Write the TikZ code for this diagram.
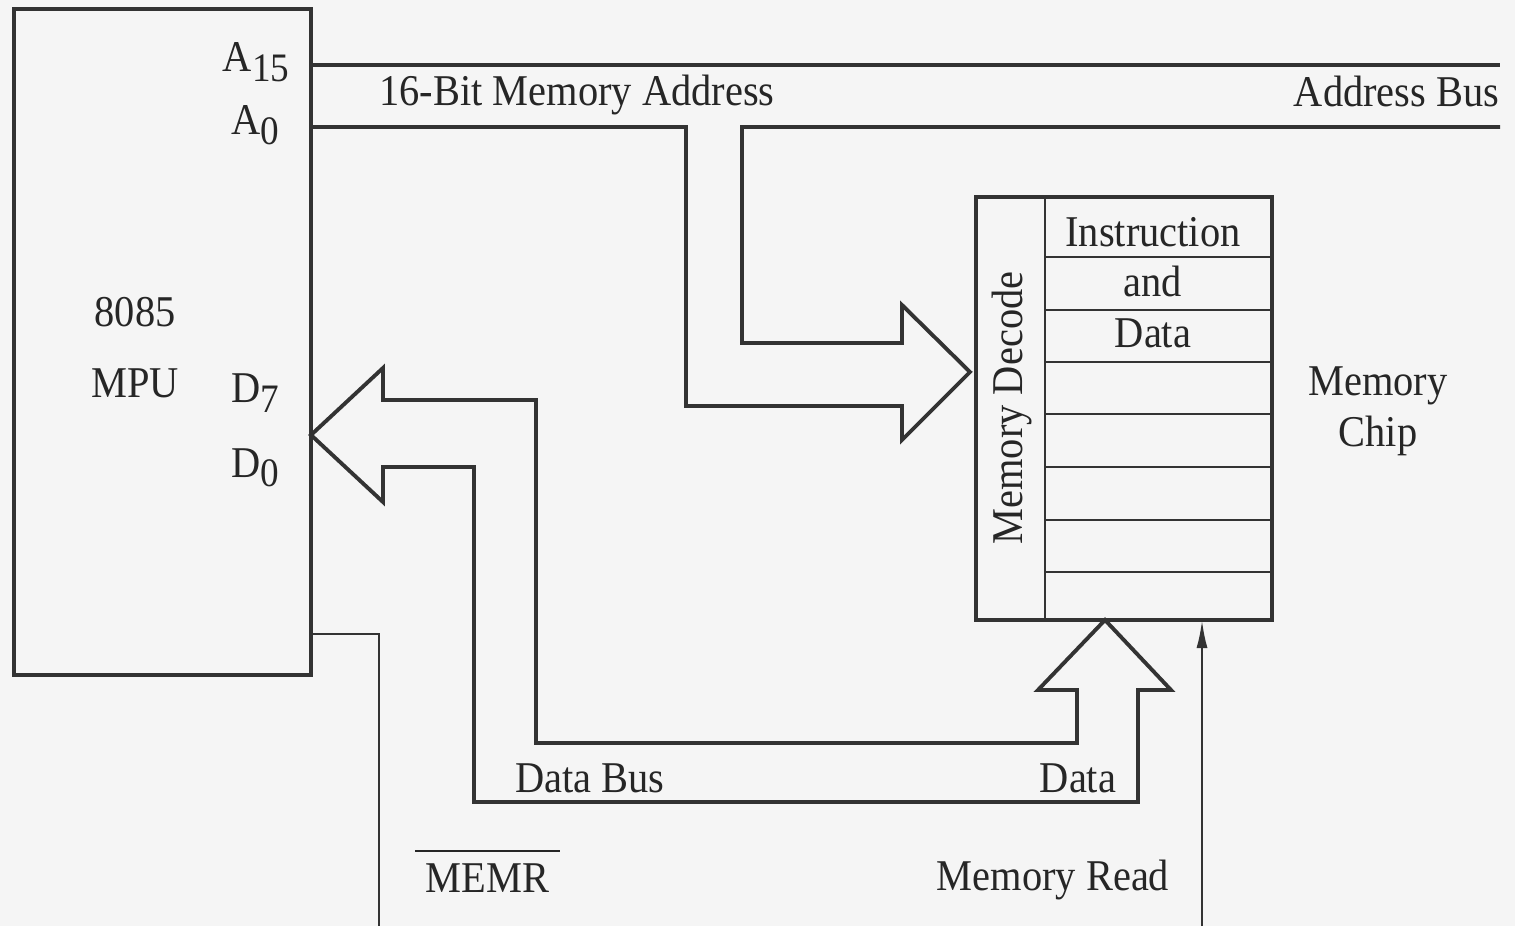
\documentclass[tikz,border=0pt]{standalone}
\usepackage{fontspec}
\setmainfont{Liberation Serif}[FakeStretch=0.92]
\usetikzlibrary{arrows.meta,calc}

\newcommand{\pinsub}[1]{\raisebox{-2.8pt}{\fontsize{11.5}{12}\selectfont #1}}

\begin{document}
\begin{tikzpicture}[
    bus/.style={line width=1.1pt,draw=black!80},
    wire/.style={line width=0.7pt,draw=black!80},
    txt/.style={font=\fontsize{12.5}{14}\selectfont,text=black!85,inner sep=0pt},
    lbl/.style={txt,anchor=base}]
                    \fill [black!4] (0,0) rectangle (15.15,9.26);
                    \useasboundingbox (0,0) rectangle (15.15,9.26);

                    \coordinate (a15) at (3.11,8.61);
                    \coordinate (a0) at (3.11,7.99);
                    \coordinate (dtip) at (3.11,4.91);
                    \coordinate (memr) at (3.11,2.92);

                    \draw [bus] (0.14,2.51) rectangle (3.11,9.17);
                    \node [lbl] (cpu) at (1.35,5.99) {8085};
                    \node [lbl] (mpu) at (1.35,5.28) {MPU};
                    \node [txt,anchor=base east] (pa15) at (2.90,8.54) {A\pinsub{15}};
                    \node [txt,anchor=base east] (pa0) at (2.80,7.91) {A\pinsub{0}};
                    \node [txt,anchor=base east] (pd7) at (2.80,5.23) {D\pinsub{7}};
                    \node [txt,anchor=base east] (pd0) at (2.80,4.49) {D\pinsub{0}};

                    \draw [bus] (9.76,3.06) rectangle (12.72,7.29);
                    \draw [wire] (10.45,3.06) -- (10.45,7.29);
                    \foreach \y in {6.69,6.16,5.64,5.12,4.59,4.06,3.54} {
                        \draw [wire] (10.45,\y) -- (12.72,\y);
                    }
                    \node [txt,rotate=90] (decode) at (10.12,5.18) {Memory Decode};
                    \node [lbl] (instr) at (11.53,6.79) {Instruction};
                    \node [lbl] (and) at (11.53,6.29) {and};
                    \node [lbl] (data) at (11.53,5.78) {Data};
                    \node [lbl] (mem) at (13.78,5.30) {Memory};
                    \node [lbl] (chip) at (13.78,4.79) {Chip};

                    \draw [bus] (a15) -- (15.0,8.61);
                    \draw [bus] (a0) -- (6.86,7.99) -- (6.86,5.20) -- (9.02,5.20) -- (9.02,4.86)
                        -- (9.70,5.54) -- (9.02,6.21) -- (9.02,5.83) -- (7.42,5.83) -- (7.42,7.99) -- (15.0,7.99);
                    \node [lbl] (addr) at (5.77,8.20) {16-Bit Memory Address};
                    \node [lbl,anchor=base east] (abus) at (15.0,8.19) {Address Bus};

                    \draw [bus] (dtip) -- (3.83,5.58) -- (3.83,5.26) -- (5.36,5.26) -- (5.36,1.83)
                        -- (10.77,1.83) -- (10.77,2.36) -- (10.38,2.36) -- (11.05,3.06) -- (11.71,2.36)
                        -- (11.38,2.36) -- (11.38,1.24) -- (4.74,1.24) -- (4.74,4.59) -- (3.83,4.59)
                        -- (3.83,4.24) -- cycle;
                    \node [lbl] (dbus) at (5.90,1.34) {Data Bus};
                    \node [lbl] (dlbl) at (10.78,1.34) {Data};

                    \draw [wire] (memr) -- (3.79,2.92) -- (3.79,0);
                    \node [lbl] (memrl) at (4.875,0.34) {$\overline{\mbox{\rule{0pt}{10.3pt}\hspace{3pt}MEMR\hspace{3pt}}}$};
                    \draw [wire,-{Latex[length=2.8mm,width=1.1mm]}] (12.02,0) -- (12.02,3.06);
                    \node [lbl] (mread) at (10.53,0.36) {Memory Read};
                \end{tikzpicture}
\end{document}
